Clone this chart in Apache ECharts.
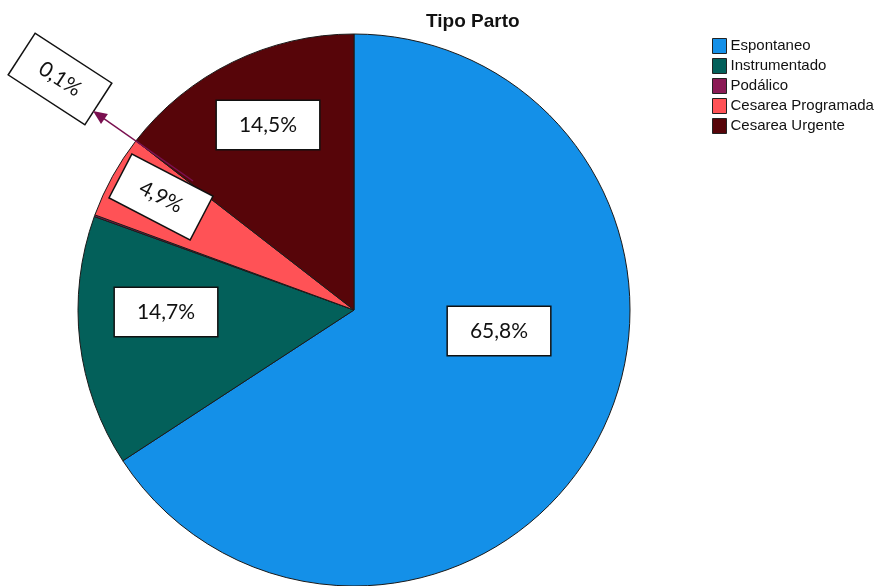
<!DOCTYPE html>
<html>
<head>
<meta charset="utf-8">
<title>Tipo Parto</title>
<script src="https://cdn.jsdelivr.net/npm/echarts@6/dist/echarts.min.js"></script>
<style>
  html, body { margin: 0; padding: 0; background: #ffffff; }
  #chart { width: 879px; height: 586px; }
</style>
</head>
<body>
<div id="chart"></div>
<script>
// Birth type distribution (percent of deliveries)
const categories = ['Espontaneo', 'Instrumentado', 'Podálico', 'Cesarea Programada', 'Cesarea Urgente'];
const percentages = [65.8, 14.7, 0.1, 4.9, 14.5];
const sliceColors = ['#1490E8', '#03605A', '#8B1A55', '#FF5256', '#570509'];

// Label box placement (centre x, centre y, rotation in degrees)
const labelPlacement = [
  { x: 499, y: 331, rotate: 0 },
  { x: 166, y: 312, rotate: 0 },
  { x: 60, y: 79, rotate: -33 },
  { x: 161, y: 197, rotate: -27.5 },
  { x: 268, y: 125, rotate: 0 }
];
// Leader for the tiny slice: starts in the pie, ends at the arrow tip
const leaderStart = [193, 181];
const leaderTip = [93, 111];
const leaderColor = '#7A1050';

const chart = echarts.init(document.getElementById('chart'), null, { renderer: 'canvas' });

const fmt = v => v.toFixed(1).replace('.', ',') + '%';

// Arrow head geometry at the end of the leader
const dx = leaderTip[0] - leaderStart[0];
const dy = leaderTip[1] - leaderStart[1];
const len = Math.sqrt(dx * dx + dy * dy);
const ux = dx / len, uy = dy / len;
const headLen = 14, headHalf = 6;
const baseX = leaderTip[0] - ux * headLen, baseY = leaderTip[1] - uy * headLen;
const arrowHead = [
  leaderTip,
  [baseX - uy * headHalf, baseY + ux * headHalf],
  [baseX + uy * headHalf, baseY - ux * headHalf]
];
const lineEnd = [leaderTip[0] - ux * (headLen - 2), leaderTip[1] - uy * (headLen - 2)];

const seriesData = categories.map((name, i) => ({
  name: name,
  value: percentages[i],
  itemStyle: { color: sliceColors[i] }
}));

chart.setOption({
  animation: false,
  backgroundColor: '#ffffff',
  title: {
    text: 'Tipo Parto',
    left: 421,
    top: 7,
    textStyle: {
      fontFamily: 'Liberation Sans, Arial, sans-serif',
      fontSize: 19,
      fontWeight: 'bold',
      color: '#111111'
    }
  },
  legend: {
    orient: 'vertical',
    left: 712,
    top: 38,
    icon: 'rect',
    itemWidth: 14,
    itemHeight: 15,
    itemGap: 4,
    padding: 0,
    selectedMode: false,
    data: categories,
    itemStyle: { borderColor: '#222222', borderWidth: 1 },
    textStyle: {
      fontFamily: 'Liberation Sans, Arial, sans-serif',
      fontSize: 15,
      lineHeight: 15,
      color: '#111111',
      padding: [0, 0, 0, -1]
    }
  },
  series: [{
    type: 'pie',
    center: [354, 310],
    radius: 276,
    startAngle: 90,
    clockwise: true,
    avoidLabelOverlap: false,
    silent: true,
    data: seriesData,
    itemStyle: { borderColor: '#1a1a1a', borderWidth: 1 },
    label: {
      show: true,
      position: 'inside',
      formatter: p => fmt(p.value),
      fontFamily: 'Lato, "Open Sans", sans-serif',
      fontSize: 21,
      color: '#111111',
      backgroundColor: '#ffffff',
      borderColor: '#111111',
      borderWidth: 1.5,
      lineHeight: 24,
      padding: [12, 22, 12, 22]
    },
    labelLine: { show: false },
    labelLayout: params => {
      const pl = labelPlacement[params.dataIndex];
      return { x: pl.x, y: pl.y, align: 'center', verticalAlign: 'middle', rotate: pl.rotate };
    }
  }],
  graphic: [{
    type: 'polyline',
    shape: { points: [leaderStart, lineEnd] },
    style: { stroke: leaderColor, lineWidth: 1.5, fill: null },
    z: 100
  }, {
    type: 'polygon',
    shape: { points: arrowHead },
    style: { fill: leaderColor },
    z: 100
  }]
});
</script>
</body>
</html>
